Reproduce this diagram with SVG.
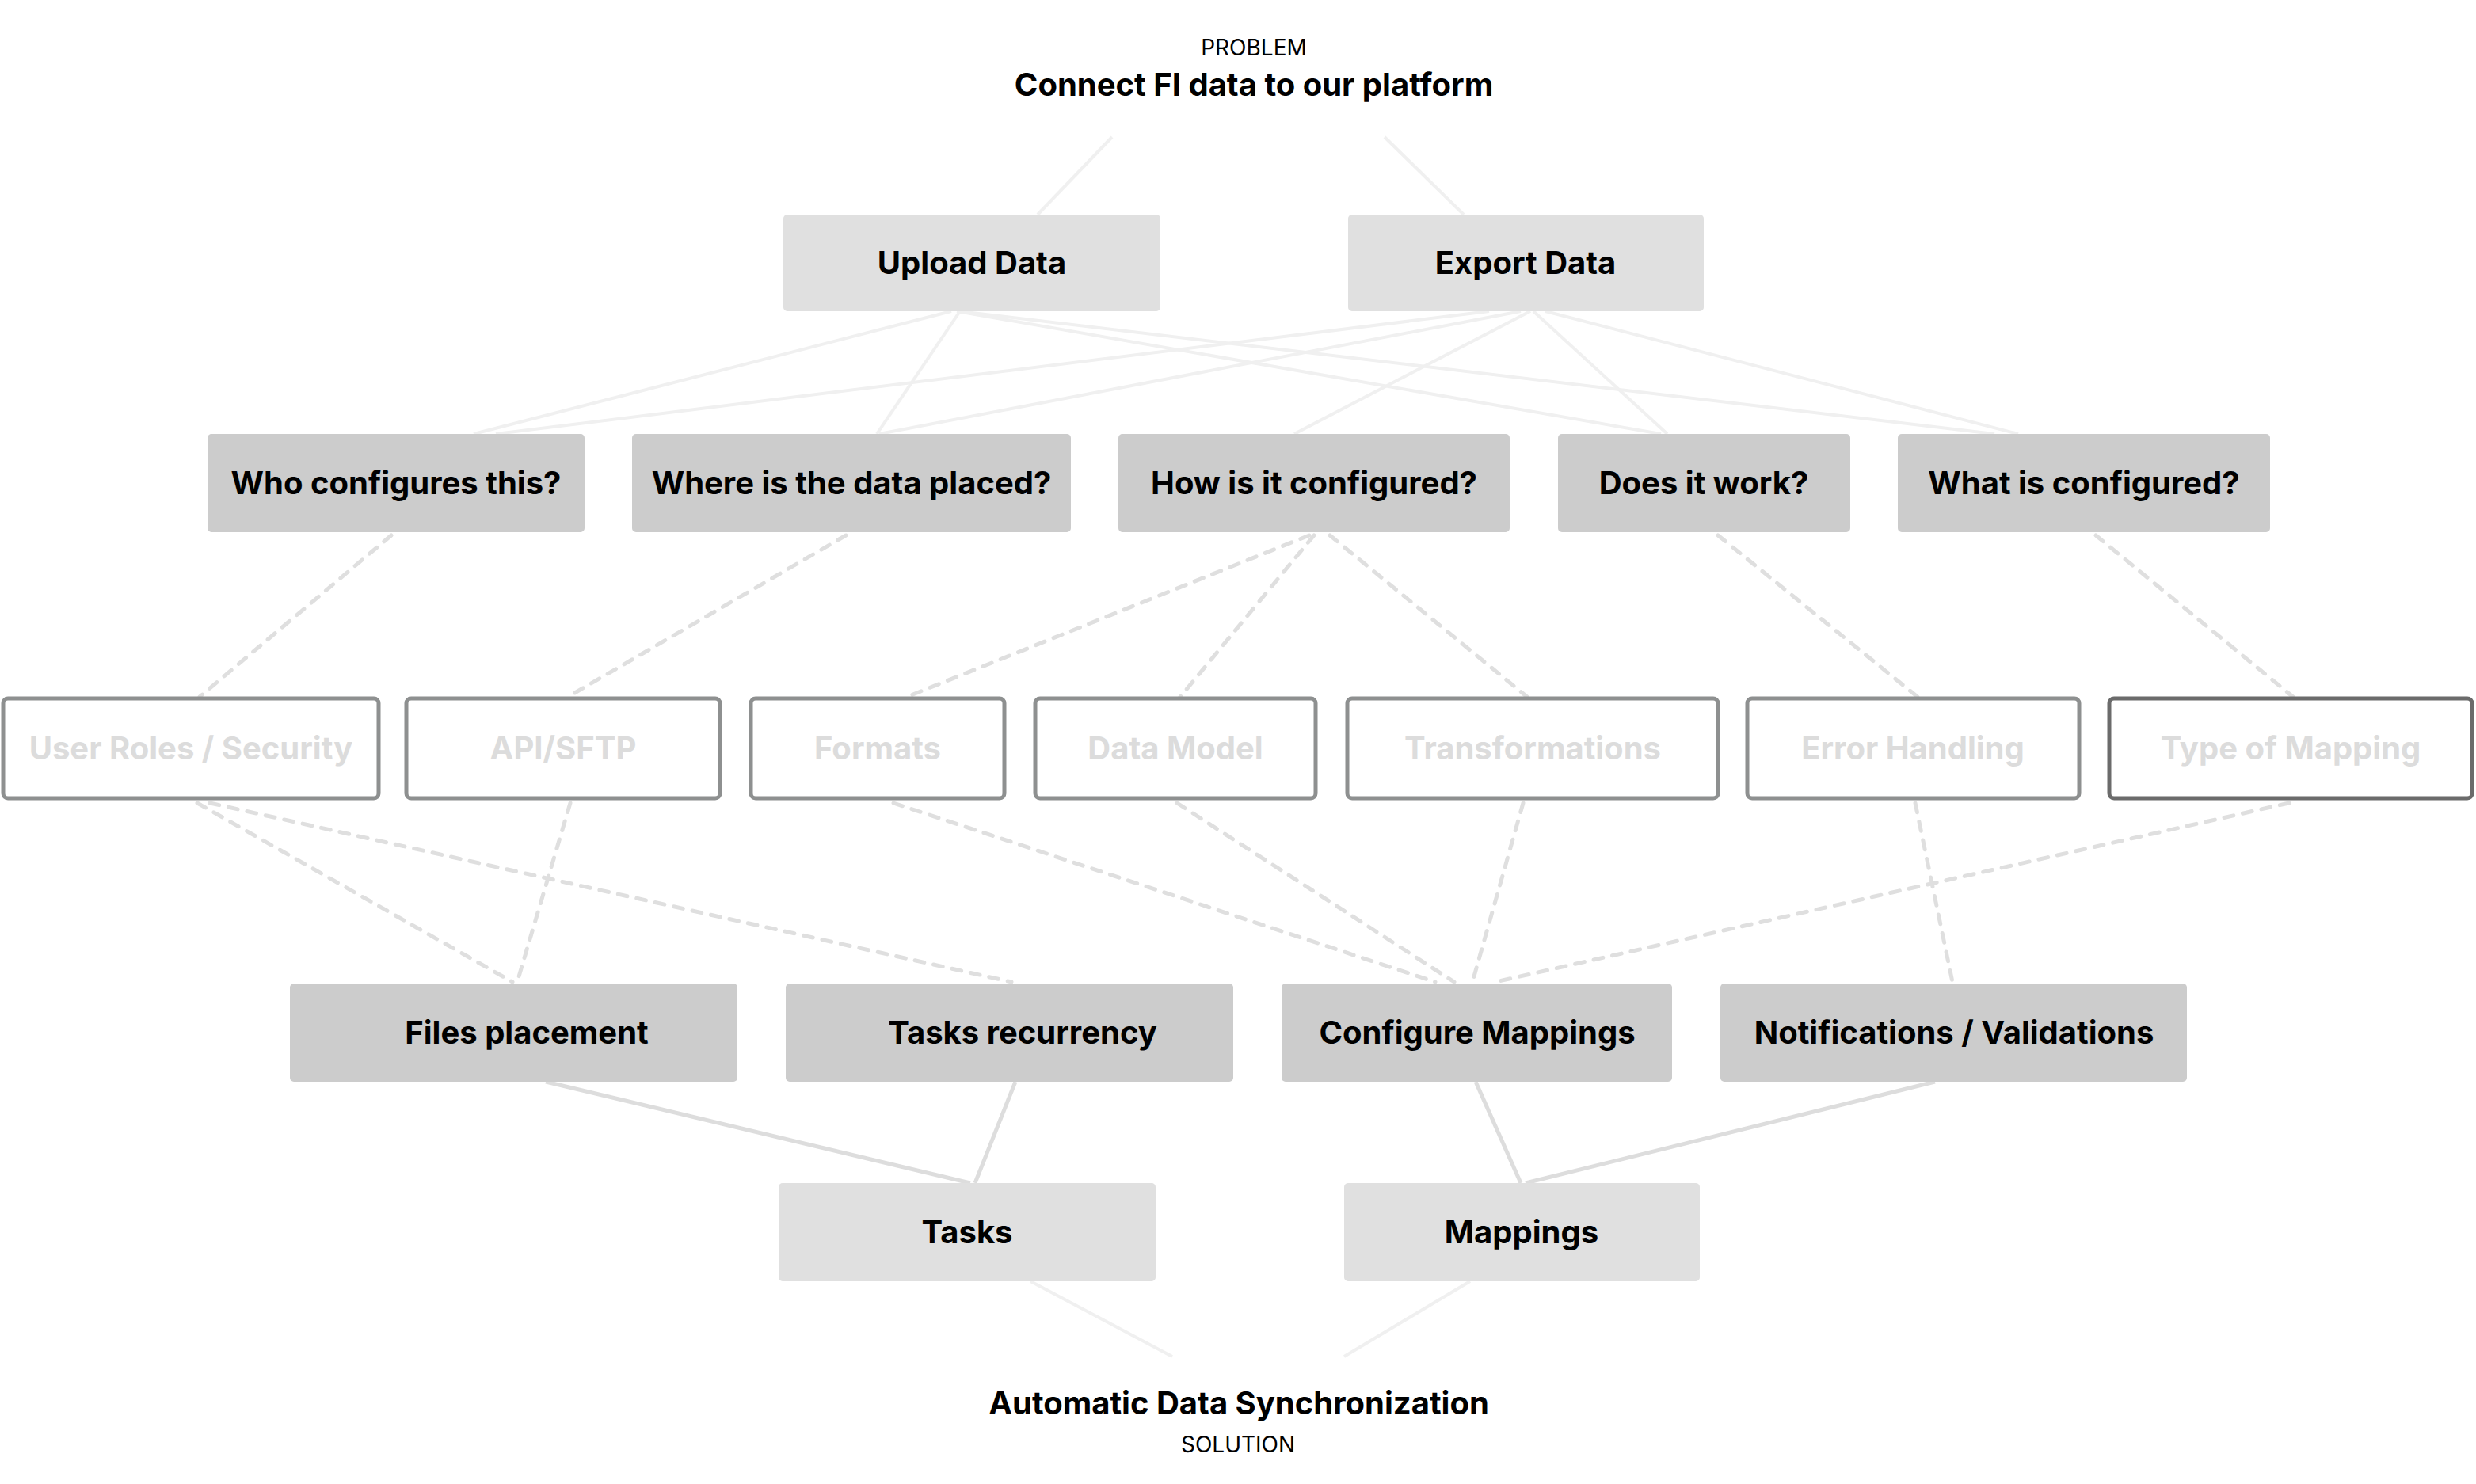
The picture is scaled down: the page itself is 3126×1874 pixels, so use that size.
<svg xmlns="http://www.w3.org/2000/svg" width="3126" height="1874" viewBox="0 0 3126 1874">
<style>
text{font-family:Inter,"Liberation Sans",sans-serif;text-anchor:middle}
.lbl{font-size:40px;font-weight:700;fill:#000}
.ghost{font-size:40px;font-weight:700;fill:#dcdcdc}
.cap{font-size:28px;font-weight:400;fill:#000}
.light{fill:#e0e0e0}
.mid{fill:#cccccc}
.out{fill:#fff;stroke:#8e9090;stroke-width:5}
.outd{fill:#fff;stroke:#6b6b6b;stroke-width:5}
.s1{stroke:#f0f0f0;stroke-width:4;fill:none}
.s2{stroke:#dddddd;stroke-width:5;fill:none}
.d{stroke:#dfdfdf;stroke-width:5;fill:none;stroke-dasharray:12 12;stroke-linecap:round}
</style>
<rect width="3126" height="1874" fill="#fff"/>
<g id="connectors">
<line class="s1" x1="1404" y1="173" x2="1310" y2="271"/>
<line class="s1" x1="1748" y1="173" x2="1848" y2="271"/>
<line class="s1" x1="1201" y1="393" x2="598" y2="548"/>
<line class="s1" x1="1212" y1="393" x2="1107" y2="548"/>
<line class="s1" x1="1208" y1="393" x2="2097" y2="548"/>
<line class="s1" x1="1210" y1="393" x2="2518" y2="548"/>
<line class="s1" x1="1880" y1="393" x2="626" y2="548"/>
<line class="s1" x1="1920" y1="393" x2="1110" y2="548"/>
<line class="s1" x1="1932" y1="393" x2="1634" y2="548"/>
<line class="s1" x1="1936" y1="393" x2="2105" y2="548"/>
<line class="s1" x1="1951" y1="393" x2="2548" y2="548"/>
<line class="d" x1="494" y1="676" x2="252" y2="880"/>
<line class="d" x1="1068" y1="676" x2="717" y2="880"/>
<line class="d" x1="1653" y1="676" x2="1145" y2="880"/>
<line class="d" x1="1659" y1="676" x2="1490" y2="880"/>
<line class="d" x1="1679" y1="676" x2="1928" y2="880"/>
<line class="d" x1="2169" y1="676" x2="2421" y2="880"/>
<line class="d" x1="2646" y1="676" x2="2895" y2="880"/>
<line class="d" x1="249" y1="1014" x2="647" y2="1240"/>
<line class="d" x1="265" y1="1014" x2="1277" y2="1240"/>
<line class="d" x1="720" y1="1014" x2="653" y2="1240"/>
<line class="d" x1="1128" y1="1014" x2="1812" y2="1240"/>
<line class="d" x1="1486" y1="1014" x2="1836" y2="1240"/>
<line class="d" x1="1923" y1="1014" x2="1859" y2="1240"/>
<line class="d" x1="2890" y1="1014" x2="1888" y2="1240"/>
<line class="d" x1="2418" y1="1014" x2="2465" y2="1240"/>
<line class="s2" x1="689" y1="1366" x2="1225" y2="1494"/>
<line class="s2" x1="1282" y1="1366" x2="1231" y2="1494"/>
<line class="s2" x1="1863" y1="1366" x2="1920" y2="1494"/>
<line class="s2" x1="2443" y1="1366" x2="1926" y2="1494"/>
<line class="s1" x1="1301" y1="1618" x2="1480" y2="1713"/>
<line class="s1" x1="1856" y1="1618" x2="1697" y2="1713"/>
</g>
<g id="problem">
<text class="cap" x="1583" y="70">PROBLEM</text>
<text class="lbl" x="1583" y="121">Connect FI data to our platform</text>
</g>
<g id="upload-data"><rect class="light" x="989" y="271" width="476" height="122" rx="5"/><text class="lbl" x="1227" y="346">Upload Data</text></g>
<g id="export-data"><rect class="light" x="1702" y="271" width="449" height="122" rx="5"/><text class="lbl" x="1926" y="346">Export Data</text></g>
<g id="who-configures"><rect class="mid" x="262" y="548" width="476" height="124" rx="5"/><text class="lbl" x="500" y="624">Who configures this?</text></g>
<g id="where-placed"><rect class="mid" x="798" y="548" width="554" height="124" rx="5"/><text class="lbl" x="1075" y="624">Where is the data placed?</text></g>
<g id="how-configured"><rect class="mid" x="1412" y="548" width="494" height="124" rx="5"/><text class="lbl" x="1659" y="624">How is it configured?</text></g>
<g id="does-it-work"><rect class="mid" x="1967" y="548" width="369" height="124" rx="5"/><text class="lbl" x="2151" y="624">Does it work?</text></g>
<g id="what-configured"><rect class="mid" x="2396" y="548" width="470" height="124" rx="5"/><text class="lbl" x="2631" y="624">What is configured?</text></g>
<g id="user-roles"><rect class="out" x="4" y="882" width="474" height="126" rx="6"/><text class="ghost" x="241" y="959">User Roles / Security</text></g>
<g id="api-sftp"><rect class="out" x="513" y="882" width="396" height="126" rx="6"/><text class="ghost" x="711" y="959">API/SFTP</text></g>
<g id="formats"><rect class="out" x="948" y="882" width="320" height="126" rx="6"/><text class="ghost" x="1108" y="959">Formats</text></g>
<g id="data-model"><rect class="out" x="1307" y="882" width="354" height="126" rx="6"/><text class="ghost" x="1484" y="959">Data Model</text></g>
<g id="transformations"><rect class="out" x="1701" y="882" width="468" height="126" rx="6"/><text class="ghost" x="1935" y="959">Transformations</text></g>
<g id="error-handling"><rect class="out" x="2206" y="882" width="419" height="126" rx="6"/><text class="ghost" x="2415" y="959">Error Handling</text></g>
<g id="type-of-mapping"><rect class="outd" x="2663" y="882" width="458" height="126" rx="6"/><text class="ghost" x="2892" y="959">Type of Mapping</text></g>
<g id="files-placement"><rect class="mid" x="366" y="1242" width="565" height="124" rx="5"/><text class="lbl" x="665" y="1318">Files placement</text></g>
<g id="tasks-recurrency"><rect class="mid" x="992" y="1242" width="565" height="124" rx="5"/><text class="lbl" x="1291" y="1318">Tasks recurrency</text></g>
<g id="configure-mappings"><rect class="mid" x="1618" y="1242" width="493" height="124" rx="5"/><text class="lbl" x="1865" y="1318">Configure Mappings</text></g>
<g id="notifications"><rect class="mid" x="2172" y="1242" width="589" height="124" rx="5"/><text class="lbl" x="2467" y="1318">Notifications / Validations</text></g>
<g id="tasks"><rect class="light" x="983" y="1494" width="476" height="124" rx="5"/><text class="lbl" x="1221" y="1570">Tasks</text></g>
<g id="mappings"><rect class="light" x="1697" y="1494" width="449" height="124" rx="5"/><text class="lbl" x="1921" y="1570">Mappings</text></g>
<g id="solution">
<text class="lbl" x="1564" y="1786">Automatic Data Synchronization</text>
<text class="cap" x="1563" y="1834">SOLUTION</text>
</g>
</svg>
